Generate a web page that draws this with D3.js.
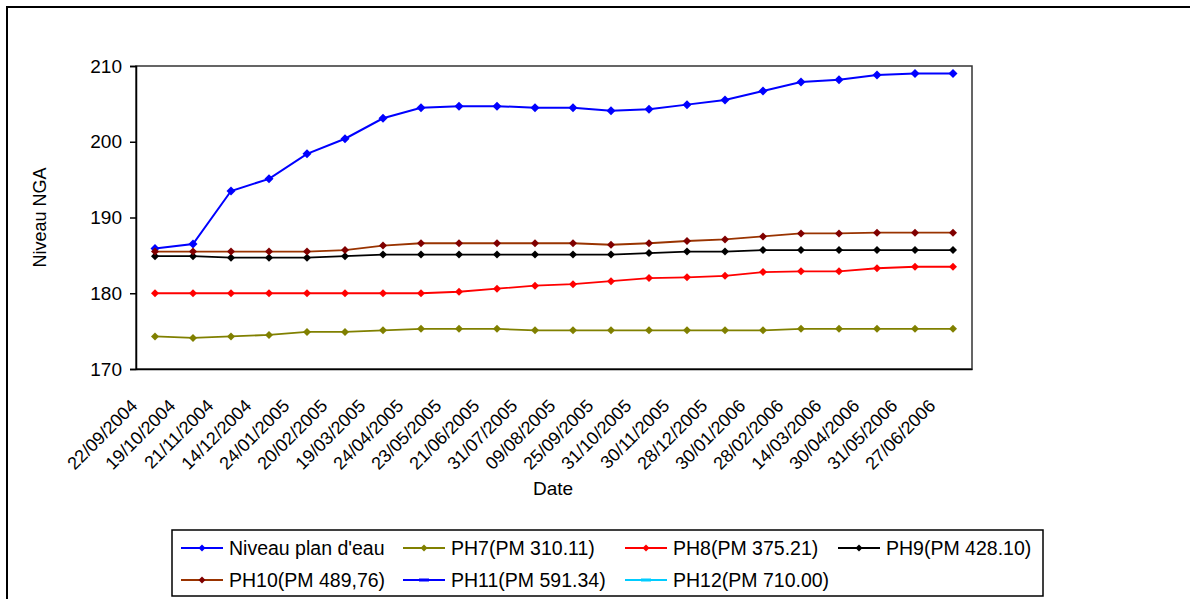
<!DOCTYPE html>
<html>
<head>
<meta charset="utf-8">
<script src="https://cdn.jsdelivr.net/npm/d3@7"></script>
<style>
  html, body { margin: 0; padding: 0; background: #fff; }
  svg { display: block; }
  text { font-family: "Liberation Sans", Arial, sans-serif; fill: #000; }
</style>
</head>
<body>
<svg id="chart" width="1190" height="599"></svg>
<script>
// Survey dates (category axis)
const dates = [
  "22/09/2004", "19/10/2004", "21/11/2004", "14/12/2004", "24/01/2005",
  "20/02/2005", "19/03/2005", "24/04/2005", "23/05/2005", "21/06/2005",
  "31/07/2005", "09/08/2005", "25/09/2005", "31/10/2005", "30/11/2005",
  "28/12/2005", "30/01/2006", "28/02/2006", "14/03/2006", "30/04/2006",
  "31/05/2006", "27/06/2006"
];

// Water levels (m NGA)
const niveauPlanEau = [185.9, 186.5, 193.5, 195.1, 198.4, 200.4, 203.1, 204.5, 204.7, 204.7,
  204.5, 204.5, 204.1, 204.3, 204.9, 205.5, 206.7, 207.9, 208.2, 208.8, 209.0, 209.0];
const ph7 = [174.3, 174.1, 174.3, 174.5, 174.9, 174.9, 175.1, 175.3, 175.3, 175.3,
  175.1, 175.1, 175.1, 175.1, 175.1, 175.1, 175.1, 175.3, 175.3, 175.3, 175.3, 175.3];
const ph8 = [180.0, 180.0, 180.0, 180.0, 180.0, 180.0, 180.0, 180.0, 180.2, 180.6,
  181.0, 181.2, 181.6, 182.0, 182.1, 182.3, 182.8, 182.9, 182.9, 183.3, 183.5, 183.5];
const ph9 = [184.9, 184.9, 184.7, 184.7, 184.7, 184.9, 185.1, 185.1, 185.1, 185.1,
  185.1, 185.1, 185.1, 185.3, 185.5, 185.5, 185.7, 185.7, 185.7, 185.7, 185.7, 185.7];
const ph10 = [185.5, 185.5, 185.5, 185.5, 185.5, 185.7, 186.3, 186.6, 186.6, 186.6,
  186.6, 186.6, 186.4, 186.6, 186.9, 187.1, 187.5, 187.9, 187.9, 188.0, 188.0, 188.0];
const ph11 = [];
const ph12 = [];

const yTicks = [170, 180, 190, 200, 210];

const seriesNames = ["Niveau plan d'eau", "PH7(PM 310.11)", "PH8(PM 375.21)", "PH9(PM 428.10)",
  "PH10(PM 489,76)", "PH11(PM 591.34)", "PH12(PM 710.00)"];
const seriesValues = [niveauPlanEau, ph7, ph8, ph9, ph10, ph11, ph12];
const lineColors   = ["#0000ff", "#808000", "#ff0000", "#000000", "#993300", "#0000ff", "#00ccff"];
const markerColors = ["#0000ff", "#808000", "#ff0000", "#000000", "#800000", "#0000ff", "#00ccff"];
const markerShapes = ["diamond", "diamond", "diamond", "diamond", "diamond", "dash", "dash"];

const series = seriesNames.map((name, i) => ({
  name, values: seriesValues[i], line: lineColors[i], marker: markerColors[i], shape: markerShapes[i]
}));

const svg = d3.select("#chart");

// Chart frame (extends past the bottom/right edges)
svg.append("rect")
  .attr("x", 7).attr("y", 7).attr("width", 1300).attr("height", 700)
  .attr("fill", "none").attr("stroke", "#000").attr("stroke-width", 2);

const plot = { left: 136, right: 972, top: 66, bottom: 369 };

const x = d3.scalePoint().domain(dates).range([plot.left, plot.right]).padding(0.5);
const y = d3.scaleLinear().domain([170, 210]).range([plot.bottom, plot.top]);

// Plot area border
svg.append("rect")
  .attr("x", plot.left).attr("y", plot.top)
  .attr("width", plot.right - plot.left).attr("height", plot.bottom - plot.top)
  .attr("fill", "none").attr("stroke", "#333").attr("stroke-width", 1.5);

// Y axis
const yAxis = svg.append("g")
  .attr("transform", `translate(${plot.left},0)`)
  .call(d3.axisLeft(y).tickValues(yTicks).tickSize(6).tickPadding(8).tickFormat(d3.format("d")));
yAxis.select(".domain").attr("stroke", "#000").attr("stroke-width", 1.5);
yAxis.selectAll(".tick line").attr("stroke", "#000").attr("stroke-width", 1.5);
yAxis.selectAll(".tick text").style("font-size", "19px").attr("font-family", null);

// X axis (category labels rotated)
const xAxis = svg.append("g")
  .attr("transform", `translate(0,${plot.bottom})`)
  .call(d3.axisBottom(x).tickSize(0).tickPadding(0));
xAxis.select(".domain").attr("stroke", "#000").attr("stroke-width", 1.5);
xAxis.selectAll(".tick text")
  .style("font-size", "18px").attr("font-family", null)
  .attr("text-anchor", "end")
  .attr("dy", null).attr("y", 0)
  .attr("transform", "translate(-17,38) rotate(-45)");

// Axis titles
svg.append("text")
  .attr("transform", `translate(46,${(plot.top + plot.bottom) / 2}) rotate(-90)`)
  .attr("text-anchor", "middle")
  .style("font-size", "18px")
  .text("Niveau NGA");

svg.append("text")
  .attr("x", 553).attr("y", 495)
  .attr("text-anchor", "middle")
  .style("font-size", "19px")
  .text("Date");

// Marker path generator
function markerPath(shape, r) {
  if (shape === "dash") return `M${-r},-1.5H${r}V1.5H${-r}Z`;
  return `M0,${-r}L${r},0L0,${r}L${-r},0Z`;
}

// Series lines and markers
const line = d3.line().x((d, i) => x(dates[i])).y(d => y(d));
series.forEach((s, si) => {
  if (!s.values.length) return;
  const g = svg.append("g");
  g.append("path")
    .datum(s.values)
    .attr("d", line)
    .attr("fill", "none")
    .attr("stroke", s.line)
    .attr("stroke-width", si === 0 ? 2 : 1.8);
  g.selectAll("path.m")
    .data(s.values)
    .join("path")
    .attr("class", "m")
    .attr("d", markerPath(s.shape, si === 0 ? 4.5 : 4))
    .attr("transform", (d, i) => `translate(${x(dates[i])},${y(d)})`)
    .attr("fill", s.marker);
});

// Legend
const legend = svg.append("g");
legend.append("rect")
  .attr("x", 172).attr("y", 530).attr("width", 871).attr("height", 66)
  .attr("fill", "#fff").attr("stroke", "#000").attr("stroke-width", 1.5);

const colX = [181, 403, 625, 838];
const rowY = [548, 580];
series.forEach((s, i) => {
  const col = i < 4 ? i : i - 4;
  const row = i < 4 ? 0 : 1;
  const lx = colX[col];
  const ly = rowY[row];
  const item = legend.append("g").attr("transform", `translate(${lx},${ly})`);
  item.append("line")
    .attr("x1", 0).attr("x2", 42).attr("y1", 0).attr("y2", 0)
    .attr("stroke", s.line).attr("stroke-width", 1.8);
  item.append("path")
    .attr("d", markerPath(s.shape, s.shape === "dash" ? 5 : 3.5))
    .attr("transform", "translate(21,0)")
    .attr("fill", s.marker);
  item.append("text")
    .attr("x", 48).attr("y", 0).attr("dy", "0.35em")
    .style("font-size", "19.5px")
    .text(s.name);
});
</script>
</body>
</html>
